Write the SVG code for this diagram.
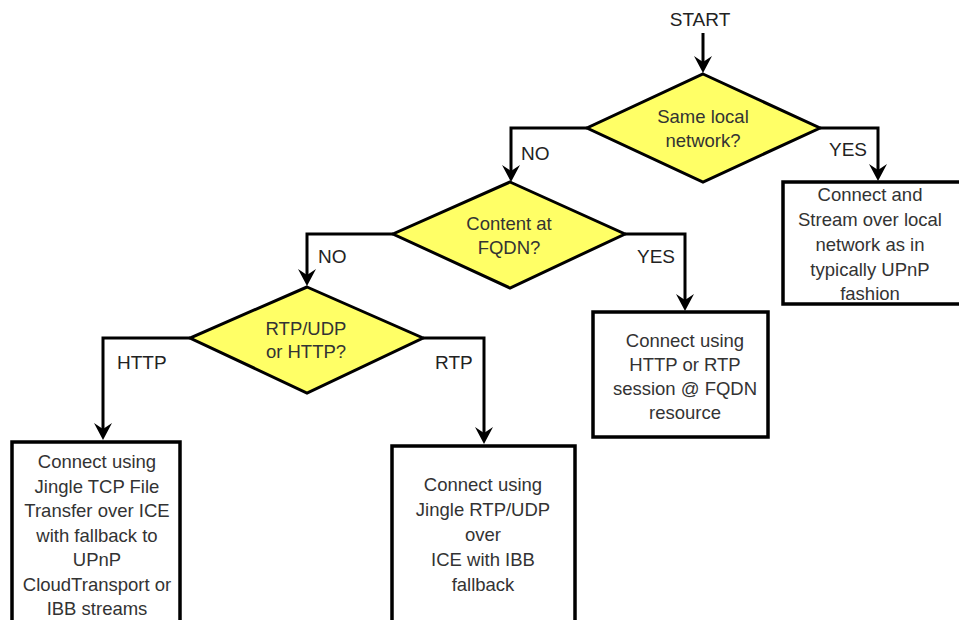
<svg xmlns="http://www.w3.org/2000/svg" width="959" height="620" viewBox="0 0 959 620">
  <defs>
    <marker id="arrow" markerUnits="userSpaceOnUse" viewBox="-16 -10 22 20" markerWidth="22" markerHeight="20" refX="0" refY="0" orient="auto" overflow="visible">
      <path d="M4,0 L-13,-9 L-7,0 L-13,9 Z" fill="#000"/>
    </marker>
    <style>
      .decision { fill: #ffff66; stroke: #000; stroke-width: 3; stroke-linejoin: miter; }
      .box { fill: #fff; stroke: #000; stroke-width: 3.5; }
      .edge { fill: none; stroke: #000; stroke-width: 3; marker-end: url(#arrow); }
      .txt { font-family: "Liberation Sans", Arial, sans-serif; font-size: 18.5px; fill: #333; text-anchor: middle; }
      .lbl { font-family: "Liberation Sans", Arial, sans-serif; font-size: 19px; fill: #222; }
    </style>
  </defs>
  <rect width="959" height="620" fill="#fff"/>

  <!-- connectors -->
  <g id="connectors">
    <path class="edge" d="M703,33 V69"/>
    <path class="edge" d="M587,128 H511 V178"/>
    <path class="edge" d="M820,128 H878 V177"/>
    <path class="edge" d="M625,234 H685 V307"/>
    <path class="edge" d="M393,234 H307 V282"/>
    <path class="edge" d="M190,338 H103 V436"/>
    <path class="edge" d="M423,338 H484 V440"/>
    <text class="lbl" x="700" y="26" text-anchor="middle">START</text>
    <text class="lbl" x="521" y="160">NO</text>
    <text class="lbl" x="829" y="156">YES</text>
    <text class="lbl" x="637" y="263">YES</text>
    <text class="lbl" x="318" y="263">NO</text>
    <text class="lbl" x="117" y="369">HTTP</text>
    <text class="lbl" x="435" y="369">RTP</text>
  </g>

  <!-- decisions -->
  <g id="same-local-network">
    <polygon class="decision" points="703,74 820,128 703,182 587,128"/>
    <text class="txt" x="703" y="123">Same local</text>
    <text class="txt" x="703" y="147">network?</text>
  </g>
  <g id="content-at-fqdn">
    <polygon class="decision" points="510,182 625,234 510,288 393,234"/>
    <text class="txt" x="509" y="230">Content at</text>
    <text class="txt" x="509" y="254">FQDN?</text>
  </g>
  <g id="rtp-or-http">
    <polygon class="decision" points="307,287 423,338 307,393 190,338"/>
    <text class="txt" x="306" y="335">RTP/UDP</text>
    <text class="txt" x="306" y="358">or HTTP?</text>
  </g>

  <!-- outcomes -->
  <g id="local-stream">
    <rect class="box" x="783" y="182" width="180" height="122"/>
    <text class="txt" x="870" y="201">Connect and</text>
    <text class="txt" x="870" y="226">Stream over local</text>
    <text class="txt" x="870" y="251">network as in</text>
    <text class="txt" x="870" y="276">typically UPnP</text>
    <text class="txt" x="870" y="300">fashion</text>
  </g>
  <g id="fqdn-session">
    <rect class="box" x="593" y="312" width="175" height="125"/>
    <text class="txt" x="685" y="347">Connect using</text>
    <text class="txt" x="685" y="371">HTTP or RTP</text>
    <text class="txt" x="685" y="395">session @ FQDN</text>
    <text class="txt" x="685" y="419">resource</text>
  </g>
  <g id="jingle-tcp">
    <rect class="box" x="12" y="442" width="168" height="190"/>
    <text class="txt" x="97" y="468">Connect using</text>
    <text class="txt" x="97" y="493">Jingle TCP File</text>
    <text class="txt" x="97" y="517">Transfer over ICE</text>
    <text class="txt" x="97" y="542">with fallback to</text>
    <text class="txt" x="97" y="566">UPnP</text>
    <text class="txt" x="97" y="591">CloudTransport or</text>
    <text class="txt" x="97" y="615">IBB streams</text>
  </g>
  <g id="jingle-rtp">
    <rect class="box" x="392" y="446" width="183" height="190"/>
    <text class="txt" x="483" y="491">Connect using</text>
    <text class="txt" x="483" y="516">Jingle RTP/UDP</text>
    <text class="txt" x="483" y="541">over</text>
    <text class="txt" x="483" y="566">ICE with IBB</text>
    <text class="txt" x="483" y="591">fallback</text>
  </g>
</svg>
